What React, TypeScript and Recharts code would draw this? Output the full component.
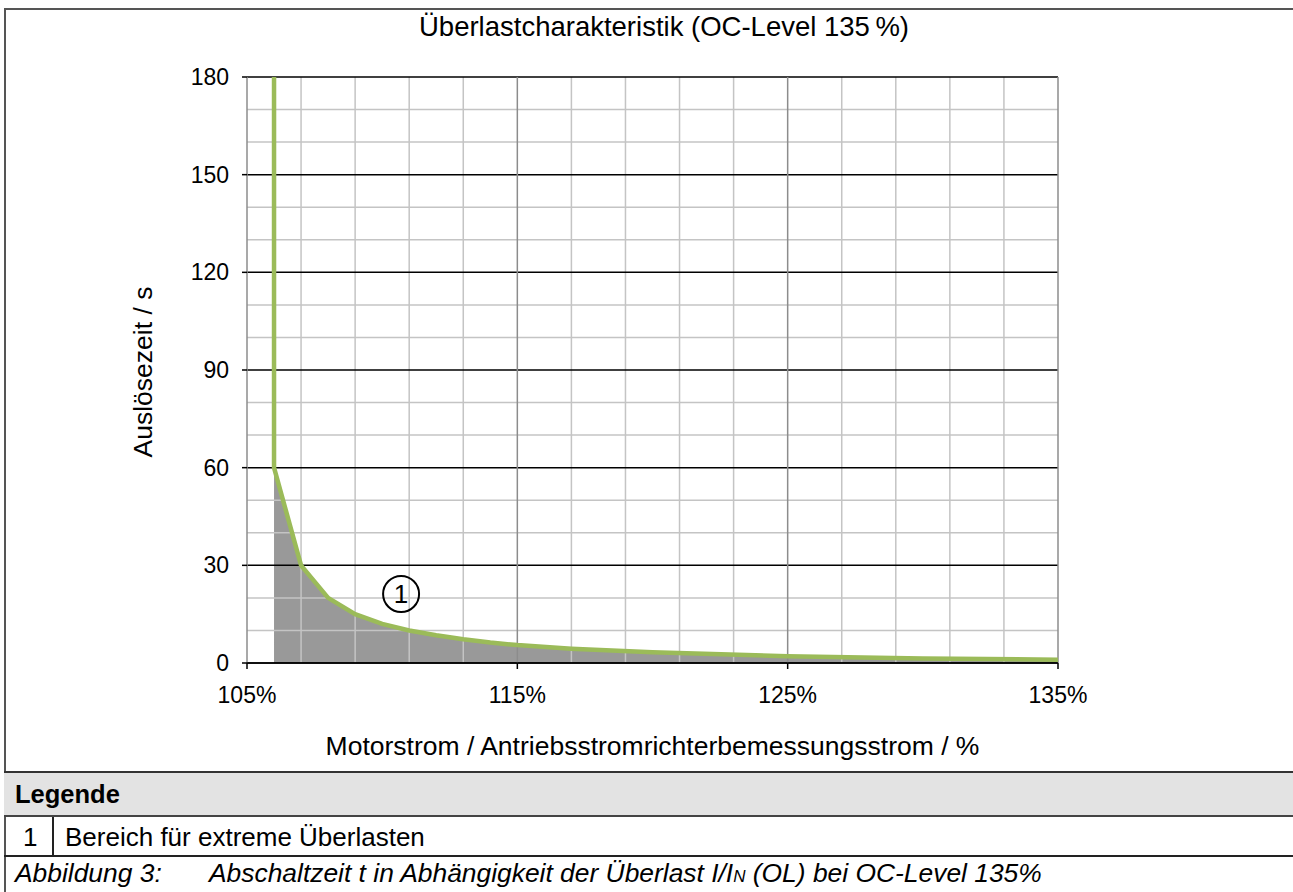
import React from "react";
import {
  ComposedChart,
  Area,
  Line,
  XAxis,
  YAxis,
  CartesianGrid,
  ReferenceDot,
} from "recharts";

// Überlastkennlinie: Motorstrom in % vs. Auslösezeit in s
const currentPct = [106, 107, 108, 109, 110, 111, 112, 113, 114, 115, 117, 120, 125, 130, 135];
const tripTime = [60, 30, 20, 15, 12, 10, 8.5, 7.3, 6.3, 5.5, 4.4, 3.3, 2.1, 1.4, 1.0];
// senkrechter Abschnitt bei 106 %
const verticalStart = { x: 106, t: 180 };

const xTicks = [105, 115, 125, 135];
const yTicks = [0, 30, 60, 90, 120, 150, 180];
const xMinor = [107, 109, 111, 113, 117, 119, 121, 123, 127, 129, 131, 133];
const yMinor = [10, 20, 40, 50, 70, 80, 100, 110, 130, 140, 160, 170];

const areaData = currentPct.map((x, i) => ({ x, t: tripTime[i] }));
const lineData = [verticalStart, ...areaData];

const GREEN = "#9bbb59";
const FONT = '"Liberation Sans", Arial, Helvetica, sans-serif';

export default function App() {
  return (
    <div
      style={{
        position: "relative",
        width: 1293,
        height: 892,
        background: "#fff",
        fontFamily: FONT,
        color: "#000",
        overflow: "hidden",
      }}
    >
      <style>{`body{margin:0}`}</style>

      {/* Tabellenrahmen */}
      <div style={{ position: "absolute", left: 4, top: 8, width: 1289, height: 2, background: "#555" }} />
      <div style={{ position: "absolute", left: 4, top: 8, width: 2, height: 884, background: "#555" }} />

      <div
        style={{
          position: "absolute",
          left: 0,
          top: 11,
          width: 1328,
          textAlign: "center",
          fontSize: 27.5,
          lineHeight: "31px",
        }}
      >
        Überlastcharakteristik (OC-Level 135{"\u202F"}%)
      </div>

      <div style={{ position: "absolute", left: 0, top: 0 }}>
        <ComposedChart
          width={1293}
          height={772}
          margin={{ top: 77, right: 235, left: 187, bottom: 49 }}
        >
          <XAxis
            dataKey="x"
            type="number"
            domain={[105, 135]}
            ticks={xTicks}
            allowDataOverflow
            tickFormatter={(v) => `${v}%`}
            axisLine={{ stroke: "#000", strokeWidth: 1.5 }}
            tickLine={{ stroke: "#000", strokeWidth: 1.5 }}
            tickSize={6}
            tickMargin={18}
            height={60}
            tick={{ fill: "#000", fontSize: 23, fontFamily: FONT }}
          />
          <YAxis
            type="number"
            domain={[0, 180]}
            ticks={yTicks}
            allowDataOverflow
            axisLine={false}
            tickLine={{ stroke: "#000", strokeWidth: 1.5 }}
            tickSize={5}
            tickMargin={13}
            width={60}
            tick={{ fill: "#000", fontSize: 23, fontFamily: FONT }}
          />
          <Area
            data={areaData}
            dataKey="t"
            type="linear"
            stroke="none"
            fill="#999999"
            fillOpacity={1}
            baseValue={0}
            isAnimationActive={false}
            zIndex={100}
          />
          <CartesianGrid
            horizontalValues={yMinor}
            verticalValues={xMinor}
            stroke="#c4c4c4"
            strokeWidth={1.5}
            zIndex={200}
          />
          <CartesianGrid
            horizontalValues={yTicks}
            vertical={false}
            stroke="#000"
            strokeWidth={1.5}
            zIndex={210}
          />
          <CartesianGrid
            verticalValues={xTicks}
            horizontal={false}
            stroke="#8c8c8c"
            strokeWidth={1.5}
            zIndex={220}
          />
          <Line
            data={lineData}
            dataKey="t"
            type="linear"
            stroke={GREEN}
            strokeWidth={4.5}
            dot={false}
            activeDot={false}
            isAnimationActive={false}
            zIndex={300}
          />
          <ReferenceDot
            x={110.7}
            y={21.2}
            r={18}
            fill="none"
            stroke="#000"
            strokeWidth={2}
            label={{ value: "1", position: "center", fontSize: 26, fill: "#000" }}
            zIndex={400}
          />
        </ComposedChart>
      </div>

      {/* Achsentitel */}
      <div
        style={{
          position: "absolute",
          left: 143,
          top: 372,
          transform: "translate(-50%, -50%) rotate(-90deg)",
          whiteSpace: "nowrap",
          fontSize: 26.5,
        }}
      >
        Auslösezeit / s
      </div>
      <div
        style={{
          position: "absolute",
          left: 0,
          top: 731,
          width: 1305,
          textAlign: "center",
          fontSize: 26.5,
          lineHeight: "31px",
        }}
      >
        Motorstrom / Antriebsstromrichterbemessungsstrom / %
      </div>

      {/* Legende */}
      <div
        style={{
          position: "absolute",
          left: 4,
          top: 771,
          width: 1289,
          height: 42,
          background: "#e3e3e3",
          borderTop: "2px solid #333",
          borderBottom: "2px solid #444",
          fontWeight: "bold",
          fontSize: 25.5,
          lineHeight: "42px",
        }}
      >
        <span style={{ position: "absolute", left: 11 }}>Legende</span>
      </div>
      <div
        style={{
          position: "absolute",
          left: 4,
          top: 817,
          width: 1289,
          height: 38,
          borderBottom: "2px solid #222",
          fontSize: 26,
          lineHeight: "40px",
        }}
      >
        <span style={{ position: "absolute", left: 19 }}>1</span>
        <div style={{ position: "absolute", left: 48, top: 0, width: 1.5, height: 38, background: "#222" }} />
        <span style={{ position: "absolute", left: 61 }}>Bereich für extreme Überlasten</span>
      </div>
      <div
        style={{
          position: "absolute",
          left: 15,
          top: 858,
          fontSize: 26.4,
          fontStyle: "italic",
          lineHeight: "31px",
          whiteSpace: "nowrap",
        }}
      >
        <span>Abbildung 3:</span>
        <span style={{ position: "absolute", left: 194 }}>
          Abschaltzeit t in Abhängigkeit der Überlast I/I<span style={{ fontSize: 17 }}>N</span> (OL) bei OC-Level 135%
        </span>
      </div>
    </div>
  );
}
